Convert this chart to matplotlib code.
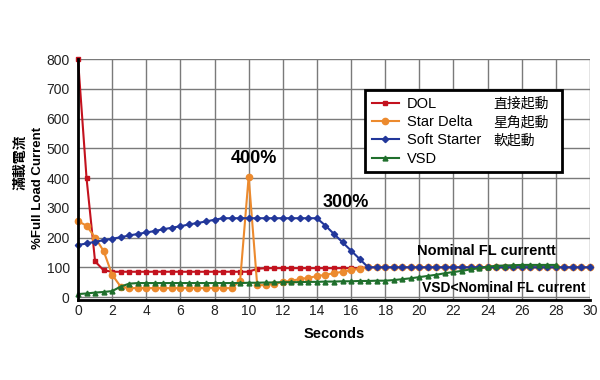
import numpy as np
import matplotlib
matplotlib.use("Agg")
import matplotlib.pyplot as plt

plt.rcParams["font.family"] = ["Liberation Sans", "Noto Sans CJK TC", "DejaVu Sans"]

# sample times (seconds), one marker every 0.5 s
seconds = [0.0, 0.5, 1.0, 1.5, 2.0, 2.5, 3.0, 3.5, 4.0, 4.5, 5.0, 5.5, 6.0, 6.5,
           7.0, 7.5, 8.0, 8.5, 9.0, 9.5, 10.0, 10.5, 11.0, 11.5, 12.0, 12.5,
           13.0, 13.5, 14.0, 14.5, 15.0, 15.5, 16.0, 16.5, 17.0, 17.5, 18.0,
           18.5, 19.0, 19.5, 20.0, 20.5, 21.0, 21.5, 22.0, 22.5, 23.0, 23.5,
           24.0, 24.5, 25.0, 25.5, 26.0, 26.5, 27.0, 27.5, 28.0, 28.5, 29.0,
           29.5, 30.0]

# % full load current
dol = [800, 400, 120, 90, 85, 85, 85, 85, 85, 85, 85, 85, 85, 85, 85, 85,
       85, 85, 85, 85, 85, 95, 97, 97, 97, 97, 97, 97, 97, 97, 97, 97, 97,
       97, 100, 100, 100, 100, 100, 100, 100, 100, 100, 100, 100, 100, 100,
       100, 100, 100, 100, 100, 100, 100, 100, 100, 100, 100, 100, 100, 100]

star_delta = [255, 240, 200, 155, 75, 35, 30, 30, 30, 30, 30, 30, 30, 30, 30,
              30, 30, 30, 30, 55, 405, 40, 40, 45, 50, 55, 60, 65, 70, 75, 80,
              85, 90, 95, 100, 100, 100, 100, 100, 100, 100, 100, 100, 100,
              100, 100, 100, 100, 100, 100, 100, 100, 100, 100, 100, 100, 100,
              100, 100, 100, 100]

soft_starter = [175, 180, 186, 191, 196, 201, 207, 212, 217, 222, 228, 233,
                238, 244, 249, 254, 260, 265, 265, 265, 265, 265, 265, 265,
                265, 265, 265, 265, 265, 240, 212, 184, 156, 128, 100, 100,
                100, 100, 100, 100, 100, 100, 100, 100, 100, 100, 100, 100,
                100, 100, 100, 100, 100, 100, 100, 100, 100, 100, 100, 100, 100]

vsd = [10, 12, 15, 17, 20, 35, 45, 47, 47, 47, 47, 47, 47, 47, 47, 47, 47, 47,
       47, 47, 48, 48, 49, 49, 50, 50, 50, 51, 51, 52, 52, 53, 53, 54, 54, 55,
       55, 57, 60, 63, 67, 71, 75, 80, 84, 88, 93, 97, 102, 105, 106, 107,
       108, 108, 108, 108, 108]

series = [
    ("DOL", dol, "#c3121e", "s", 3.5),
    ("Star Delta", star_delta, "#ec8a2e", "o", 4.5),
    ("Soft Starter", soft_starter, "#22379a", "D", 3.2),
    ("VSD", vsd, "#1f6f2c", "^", 3.5),
]
zh_labels = ["直接起動", "星角起動", "軟起動", ""]

fig = plt.figure(figsize=(6, 3.8), dpi=100)
ax = fig.add_axes([0.13, 0.2105, 0.8533, 0.634])

for name, vals, col, mk, ms in series:
    ax.plot(seconds[:len(vals)], vals, color=col, marker=mk, markersize=ms,
            linewidth=1.5, label=name, clip_on=False)

ax.set_xlim(0, 30)
ax.set_ylim(-10, 800)
ax.set_xticks(range(0, 31, 2))
ax.set_yticks(range(0, 801, 100))
ax.tick_params(length=0, labelsize=10, labelcolor="#222222")
ax.tick_params(axis="y", pad=6)
ax.tick_params(axis="x", pad=3)
ax.grid(True, color="#7a7a7a", linewidth=1.0)
ax.set_axisbelow(True)
for s in ["top", "right"]:
    ax.spines[s].set_visible(False)
for s in ["left", "bottom"]:
    ax.spines[s].set_linewidth(2)
    ax.spines[s].set_color("black")

ax.set_xlabel("Seconds", fontsize=10.5, fontweight="bold", labelpad=6)
fig.text(38 / 600, 1 - 188 / 380, "%Full Load Current", rotation=90,
         ha="center", va="center", fontsize=9.5, fontweight="bold")
fig.text(20 / 600, 1 - 162 / 380, "滿載電流", rotation=90, ha="center",
         va="center", fontsize=10, fontweight="bold", family=["Noto Sans CJK TC"])

ax.text(10.3, 467, "400%", ha="center", va="center", fontsize=13, fontweight="bold")
ax.text(15.7, 318, "300%", ha="center", va="center", fontsize=13, fontweight="bold")
ax.text(19.86, 155, "Nominal FL currentt", ha="left", va="center",
        fontsize=10.5, fontweight="bold")
ax.text(20.15, 30, "VSD<Nominal FL current", ha="left", va="center",
        fontsize=10, fontweight="bold")

leg = ax.legend(loc="upper left", bbox_to_anchor=(0.5605, 0.527, 0.3845, 0.344),
                mode="expand", borderaxespad=0, fontsize=10.5, labelspacing=0.3,
                handlelength=1.9, handletextpad=0.5, borderpad=0.45,
                fancybox=False, framealpha=1)
leg.get_frame().set_edgecolor("black")
leg.get_frame().set_linewidth(2)

fig.canvas.draw()
for txt, zh in zip(leg.get_texts(), zh_labels):
    if not zh:
        continue
    bb = txt.get_window_extent()
    yc = (bb.y0 + bb.y1) / 2 / fig.bbox.height
    fig.text(493 / 600, yc, zh, ha="left", va="center", fontsize=10,
             family=["Noto Sans CJK TC"])

fig.savefig("out.png", dpi=100, facecolor="white")
